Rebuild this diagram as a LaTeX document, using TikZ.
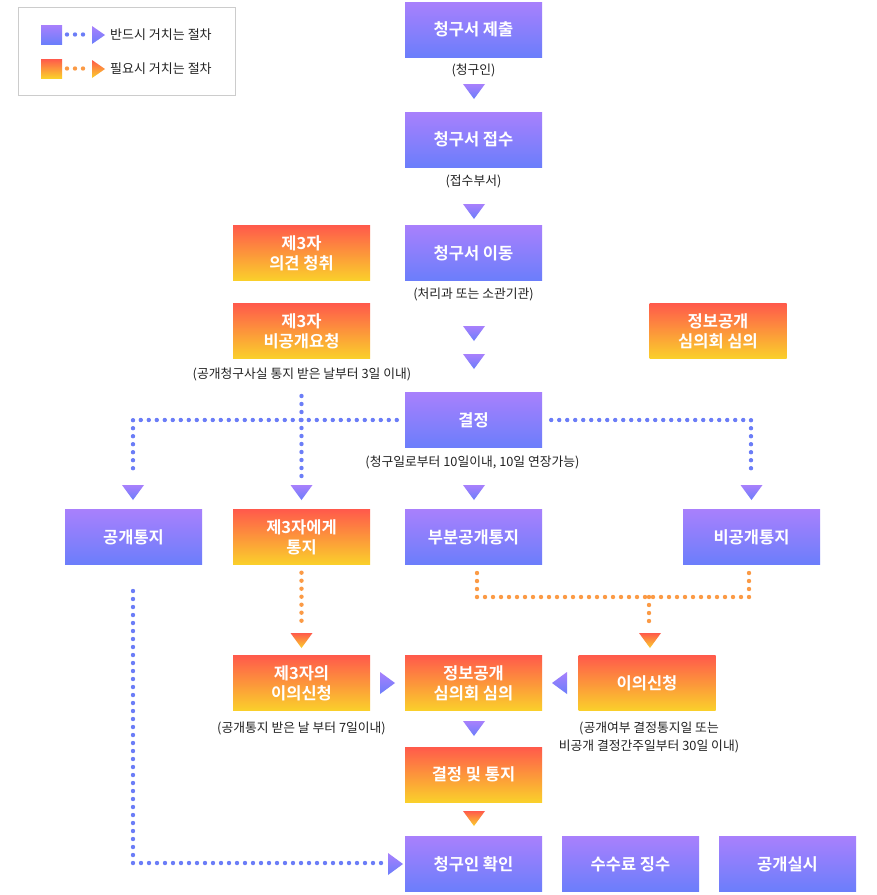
\documentclass[tikz,border=0pt]{standalone}
\usepackage{fontspec}
\setmainfont{Noto Sans CJK KR}[BoldFont={Noto Sans CJK KR Bold}]
\definecolor{ptop}{HTML}{A880FC}
\definecolor{pbot}{HTML}{6B7EFB}
\definecolor{otop}{HTML}{FF5A4B}
\definecolor{obot}{HTML}{FAD02B}
\definecolor{bluedot}{HTML}{6B7DF7}
\definecolor{orangedot}{HTML}{FB9A45}
\definecolor{captxt}{HTML}{222222}
\definecolor{legline}{HTML}{CCCCCC}
\newcommand\dtri[3]{\path[#3] (#1-11,#2) -- (#1+11,#2) -- (#1,#2+15) -- cycle;}
\newcommand\rtri[3]{\path[#3] (#1,#2-11) -- (#1+15,#2) -- (#1,#2+11) -- cycle;}
\newcommand\ltri[3]{\path[#3] (#1,#2-11) -- (#1-15,#2) -- (#1,#2+11) -- cycle;}
\begin{document}
\begin{tikzpicture}[x=1pt,y=-1pt,
  pbox/.style={minimum width=137pt,minimum height=55pt,inner sep=0pt,top color=ptop,bottom color=pbot,text=white,font=\bfseries\fontsize{16.5}{20}\selectfont,align=center},
  obox/.style={minimum width=137pt,minimum height=55pt,inner sep=0pt,top color=otop,bottom color=obot,text=white,font=\bfseries\fontsize{16.5}{20}\selectfont,align=center},
  captext/.style={inner sep=0pt,text=captxt,font=\fontsize{12.8}{18}\selectfont,align=center},
  legtxt/.style={inner sep=0pt,anchor=west,text=captxt,font=\fontsize{13}{16}\selectfont},
  ptri/.style={top color=ptop,bottom color=pbot},
  otri/.style={top color=otop,bottom color=obot},
  bdot/.style={draw=bluedot,line width=4.4pt,line cap=round,dash pattern=on 0pt off 8pt},
  odot/.style={draw=orangedot,line width=4.4pt,line cap=round,dash pattern=on 0pt off 8pt}]
\useasboundingbox (0,0) rectangle (877,895);
\fill[white] (0,0) rectangle (877,895);

% legend
\draw[legline,line width=1pt] (18.5,7.5) rectangle (235.5,95.5);
\path[ptri] (41,25) rectangle (62,44);
\foreach \dx in {67,75,83} \fill[bluedot] (\dx,34.5) circle (2.2);
\path[ptri] (92,26) -- (105,35) -- (92,44) -- cycle;
\node[legtxt] (leg1) at (110,35) {반드시 거치는 절차};
\path[otri] (41,59) rectangle (62,78);
\foreach \dx in {67,75,83} \fill[orangedot] (\dx,68.5) circle (2.2);
\path[otri] (92,60) -- (105,69) -- (92,78) -- cycle;
\node[legtxt] (leg2) at (110,69) {필요시 거치는 절차};

% column main
\node[pbox] (n1) at (473.5,29.5) {청구서 제출};
\node[captext] (c1) at (473.5,70) {(청구인)};
\dtri{474}{84}{ptri}
\node[pbox] (n2) at (473.5,139.5) {청구서 접수};
\node[captext] (c2) at (473.5,181) {(접수부서)};
\dtri{474}{204}{ptri}
\node[pbox] (n3) at (473.5,253) {청구서 이동};
\node[captext] (c3) at (473.5,294) {(처리과 또는 소관기관)};
\dtri{474}{326}{ptri}
\dtri{474}{354}{ptri}

\node[obox] (o1) at (301.5,253) {제3자\\의견 청취};
\node[obox] (o2) at (301.5,331) {제3자\\비공개요청};
\node[captext] (c4) at (302,374) {(공개청구사실 통지 받은 날부터 3일 이내)};
\node[obox] (o3) at (718,331) {정보공개\\심의회 심의};

\node[pbox] (n4) at (473.5,420) {결정};
\node[captext] (c5) at (472.5,462) {(청구일로부터 10일이내, 10일 연장가능)};

% branches
\coordinate (e1) at (133,476);
\coordinate (e2s) at (301.5,396);
\coordinate (e2) at (301.5,476);
\coordinate (e4) at (751,476);
\draw[bdot] ([xshift=-8pt]n4.west) -| (e1);
\draw[bdot] ([xshift=9pt]n4.east) -| (e4);
\draw[bdot] (e2s) -- (e2);
\dtri{133}{485}{ptri}
\dtri{301.5}{485}{ptri}
\dtri{474}{485}{ptri}
\dtri{751.5}{485}{ptri}

\node[pbox] (n5) at (133.5,537) {공개통지};
\node[obox] (o4) at (301.5,537) {제3자에게\\통지};
\node[pbox] (n6) at (473.5,537) {부분공개통지};
\node[pbox] (n7) at (751.5,537) {비공개통지};

% orange connectors
\coordinate (f1) at (301.5,621);
\draw[odot] ([yshift=-8pt]o4.south) -- (f1);
\dtri{301.5}{633}{otri}
\coordinate (g1) at (477,573);
\coordinate (g2) at (749,573);
\coordinate (g3) at (649,597);
\coordinate (g4) at (649,621);
\draw[odot] (g1) |- (g3) -| (g2);
\draw[odot] (g3) -- (g4);
\dtri{650}{633}{otri}

\node[obox] (o5) at (301.5,683) {제3자의\\이의신청};
\node[obox] (o6) at (473.5,683) {정보공개\\심의회 심의};
\node[obox] (o7) at (647,683) {이의신청};
\rtri{380}{683}{ptri}
\ltri{567}{683}{ptri}
\node[captext] (c6) at (301.5,728) {(공개통지 받은 날 부터 7일이내)};
\node[captext] (c7) at (649,737) {(공개여부 결정통지일 또는\\비공개 결정간주일부터 30일 이내)};
\dtri{474}{721}{ptri}

\node[obox] (o8) at (473.5,774.5) {결정 및 통지};
\dtri{474}{811}{otri}

\node[pbox] (n8) at (473.5,864) {청구인 확인};
\node[pbox] (n9) at (630.5,864) {수수료 징수};
\node[pbox] (n10) at (787.5,864) {공개실시};

% blue connector to 청구인 확인
\coordinate (h1) at (133,591);
\coordinate (h2) at (381,863);
\draw[bdot] (h1) |- (h2);
\rtri{388}{864}{ptri}
\end{tikzpicture}
\end{document}
